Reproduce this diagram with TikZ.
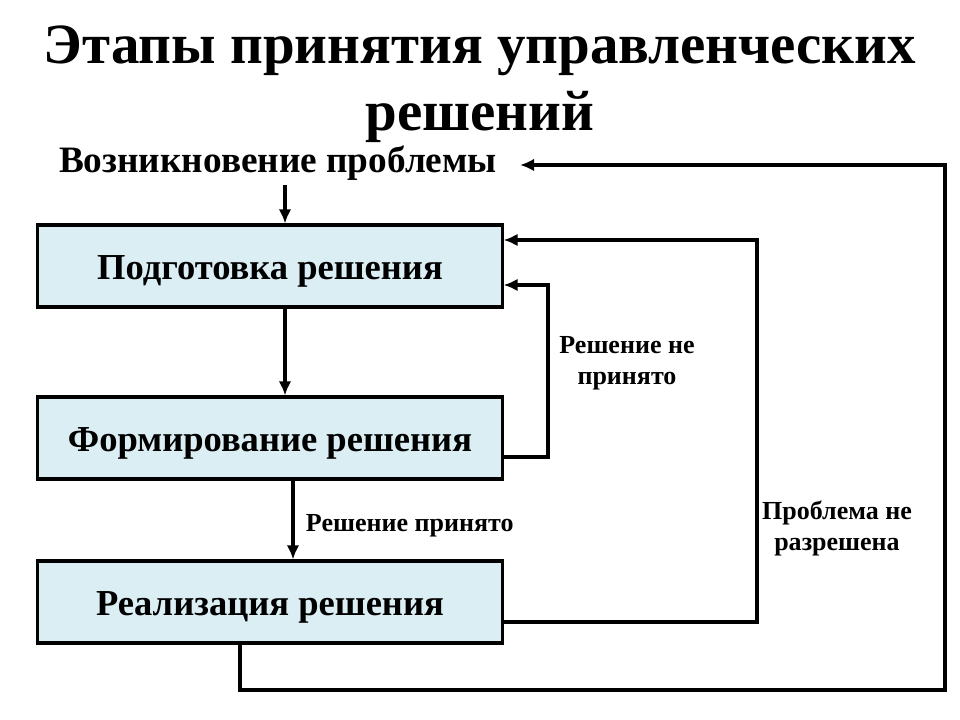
\documentclass[tikz,border=0pt]{standalone}
\usepackage{fontspec}
\setmainfont{Liberation Serif}
\usetikzlibrary{arrows.meta}
\definecolor{boxblue}{HTML}{DAEEF3}
\tikzset{
  stage/.style={draw, line width=2.2pt, fill=boxblue, minimum width=11.6cm, minimum height=2.05cm,
    text height=25pt, text depth=5.7pt, font=\fontsize{26}{30}\selectfont\bfseries},
  note/.style={font=\fontsize{18.5}{22}\selectfont\bfseries, align=center},
  arr/.style={line width=2.7pt, -{Latex[length=10pt,width=9pt]}}
}
\begin{document}
\begin{tikzpicture}[x=0.025cm,y=-0.025cm]
\useasboundingbox[fill=white] (0,0) rectangle (960,720);
% Title
\node[font=\fontsize{40.5}{48}\selectfont\bfseries, align=center] (title) at (480,84)
  {Этапы принятия управленческих\\решений};
% The stages
\node[font=\fontsize{26.5}{30}\selectfont\bfseries] (problem) at (278,163) {Возникновение проблемы};
\node[stage] (prep) at (270,266) {Подготовка решения};
\node[stage] (form) at (270,438) {Формирование решения};
\node[stage] (real) at (270,602) {Реализация решения};
% Straight arrows down the chain
\draw[arr] (problem.south -| 285,0) -- (prep.north -| 285,0);
\draw[arr] (prep.south -| 285,0) -- (form.north -| 285,0);
\draw[arr] (form.south -| 293,0) -- (real.north -| 293,0);
\node[note, anchor=west] (yes) at (301,526) {Решение принято};
% Loops back to the top
\draw[arr] (form.east |- 0,457) -| (548,285) -- (prep.east |- 0,285);
\node[note] (no) at (627,363) {Решение не\\принято};
\draw[arr] (real.east |- 0,622) -| (757,240) -- (prep.east |- 0,240);
\node[note] (unsolved) at (837,528) {Проблема не\\разрешена};
\coordinate (back) at (520,165);
\draw[arr] (real.south -| 240,0) |- (945,690) |- (back);
\end{tikzpicture}
\end{document}
